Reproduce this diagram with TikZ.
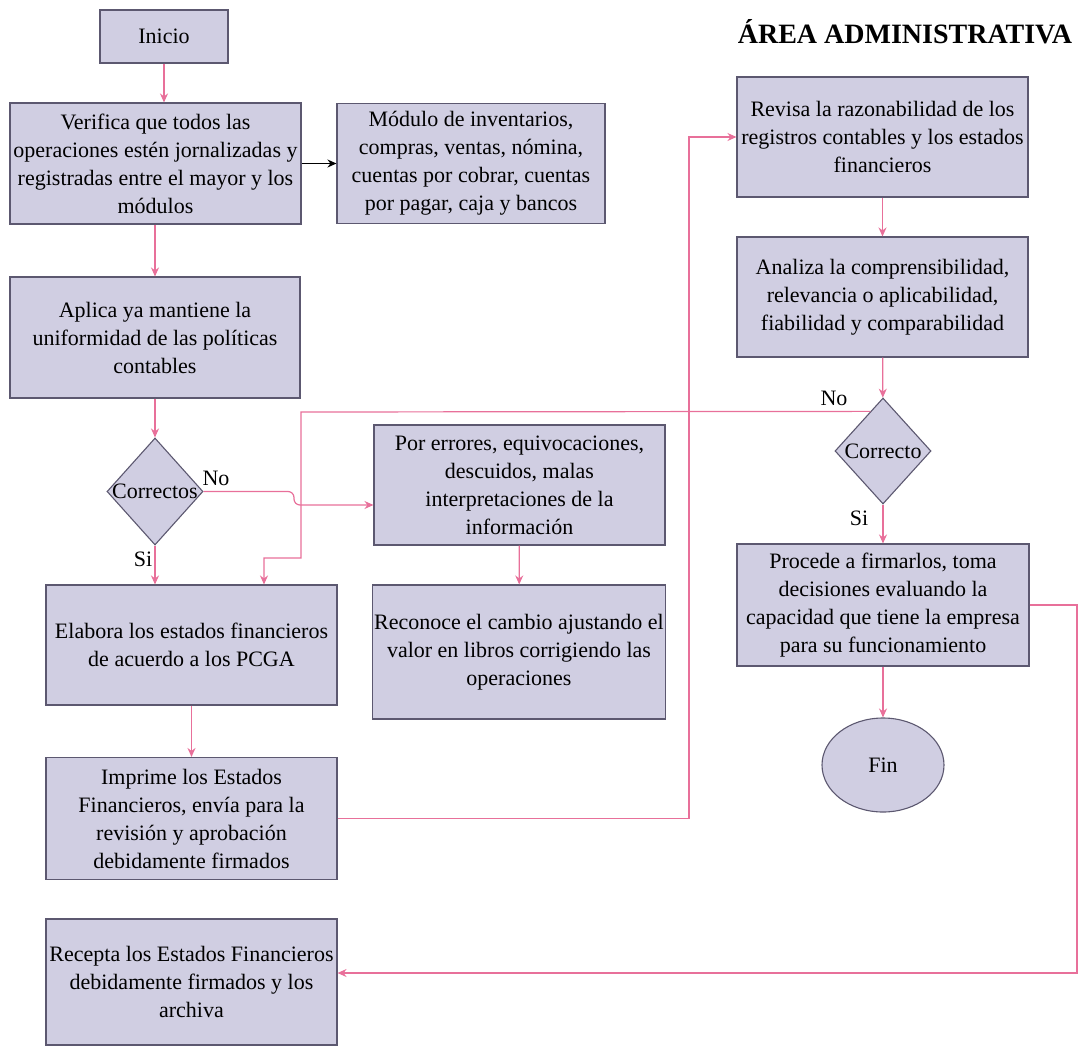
\documentclass[tikz,border=0pt]{standalone}
\usepackage{fontspec}
\setmainfont{Liberation Serif}
\usetikzlibrary{shapes.geometric,arrows.meta,calc}
\definecolor{boxfill}{HTML}{D0CEE2}
\definecolor{boxline}{HTML}{5C5870}
\definecolor{pinkline}{HTML}{E8709A}
\begin{document}
\begin{tikzpicture}[x=1pt,y=-1pt,
  font=\fontsize{22}{28}\selectfont,
  box/.style={draw=boxline, fill=boxfill, line width=1.1pt, align=center, inner sep=2pt},
  dia/.style={diamond, draw=boxline, fill=boxfill, line width=1.1pt, inner sep=0pt},
  pk/.style={draw=pinkline, line width=1.2pt, -{Stealth[length=9pt,width=8pt]}},
  bk/.style={draw=black, line width=1.2pt, -{Stealth[length=9pt,width=8pt]}},
  lbl/.style={inner sep=0pt}]
\useasboundingbox (0,0) rectangle (1085,1050);

\node[font=\fontsize{28}{32}\selectfont\bfseries, anchor=base] (title) at (905,43) {ÁREA ADMINISTRATIVA};

\node[box, minimum width=128, minimum height=53] (inicio) at (164,36.5) {Inicio};
\node[box, minimum width=291, minimum height=121] (verifica) at (155.5,163.5)
  {Verifica que todos las\\operaciones estén jornalizadas y\\registradas entre el mayor y los\\módulos};
\node[box, minimum width=268, minimum height=120] (modulo) at (471,163.5)
  {Módulo de inventarios,\\compras, ventas, nómina,\\cuentas por cobrar, cuentas\\por pagar, caja y bancos};
\node[box, minimum width=290, minimum height=121] (aplica) at (155,337.5)
  {Aplica ya mantiene la\\uniformidad de las políticas\\contables};
\node[dia, minimum width=96, minimum height=107,
  label={[lbl]center:Correctos}] (d1) at (155,491.5) {};
\node[box, minimum width=291, minimum height=120] (errores) at (519.5,485)
  {Por errores, equivocaciones,\\descuidos, malas\\interpretaciones de la\\información};
\node[box, minimum width=292, minimum height=134] (reconoce) at (519,652)
  {Reconoce el cambio ajustando el\\valor en libros corrigiendo las\\operaciones};
\node[box, minimum width=291, minimum height=120] (elabora) at (191.5,645)
  {Elabora los estados financieros\\de acuerdo a los PCGA};
\node[box, minimum width=291, minimum height=122] (imprime) at (191.5,818.5)
  {Imprime los Estados\\Financieros, envía para la\\revisión y aprobación\\debidamente firmados};
\node[box, minimum width=291, minimum height=126] (recepta) at (191.5,982)
  {Recepta los Estados Financieros\\debidamente firmados y los\\archiva};
\node[box, minimum width=291, minimum height=120] (revisa) at (882.5,137)
  {Revisa la razonabilidad de los\\registros contables y los estados\\financieros};
\node[box, minimum width=291, minimum height=120] (analiza) at (882.5,297)
  {Analiza la comprensibilidad,\\relevancia o aplicabilidad,\\fiabilidad y comparabilidad};
\node[dia, minimum width=96, minimum height=106,
  label={[lbl]center:Correcto}] (d2) at (883,451) {};
\node[box, minimum width=292, minimum height=122] (procede) at (883,605)
  {Procede a firmarlos, toma\\decisiones evaluando la\\capacidad que tiene la empresa\\para su funcionamiento};
\node[ellipse, draw=boxline, fill=boxfill, line width=1.1pt, minimum width=122, minimum height=94] (fin) at (883,765) {Fin};

% labels
\node[lbl] (no1) at (216,478) {No};
\node[lbl] (si1) at (143,559) {Si};
\node[lbl] (no2) at (834,398) {No};
\node[lbl] (si2) at (859,518) {Si};

% connectors
\draw[pk] (inicio.south) -- (inicio.south |- verifica.north);
\draw[bk] (verifica) -- (modulo);
\draw[pk] (aplica.north |- verifica.south) -- (aplica.north);
\draw[pk] (aplica) -- (d1);
\draw[pk] (d1.south) -- (d1.south |- elabora.north);
\draw[pk, rounded corners=6pt] (d1.east) -- (294,491.5) -- (294,505) -- (errores.west |- 0,505);
\draw[pk] ($(d2.north)!0.26!(d2.west)$) -- (301,412) -- (301,558) -- (264,558) -- (elabora.north -| 264,558);
\draw[pk] (errores) -- (reconoce);
\draw[pk] (elabora) -- (imprime);
\draw[pk] (imprime.east) -- (689,818.5) -- (689,137) -- (revisa.west);
\draw[pk] (revisa) -- (analiza);
\draw[pk] (analiza) -- (d2);
\draw[pk] (d2) -- (procede);
\draw[pk] (procede) -- (fin);
\draw[pk] (procede.east) -- (1077,605) -- (1077,973) -- (recepta.east |- 0,973);
\end{tikzpicture}
\end{document}
